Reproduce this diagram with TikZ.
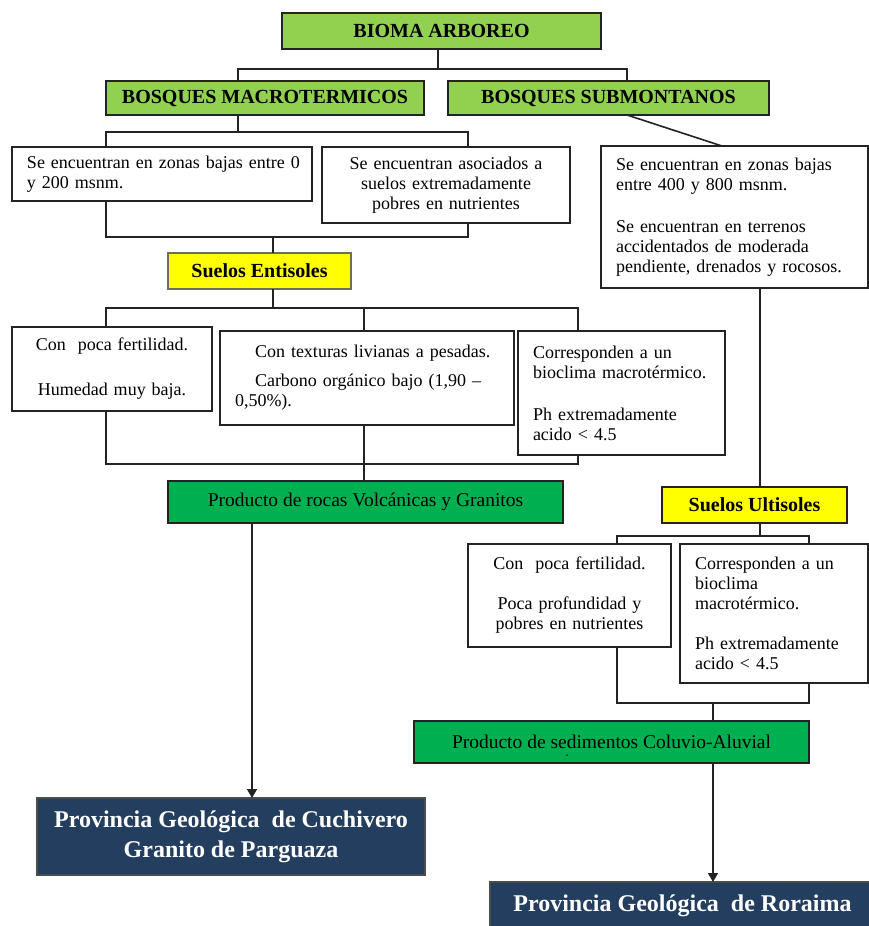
\documentclass[tikz,border=0pt]{standalone}
\usepackage{fontspec}
\setmainfont{Liberation Serif}
\usetikzlibrary{arrows.meta}
\definecolor{hdrgreen}{RGB}{146,208,80}
\definecolor{prodgreen}{RGB}{0,176,80}
\definecolor{soilyellow}{RGB}{255,255,0}
\definecolor{navyblue}{RGB}{36,62,96}
\definecolor{linegray}{RGB}{35,35,35}
\definecolor{soilborder}{RGB}{110,110,95}
\begin{document}
\begin{tikzpicture}[x=1pt,y=-1pt,
  base/.style={draw=linegray, line width=1.6pt, inner sep=0pt, outer sep=0pt, anchor=center},
  hdr/.style={base, fill=hdrgreen, font=\fontsize{20}{22}\selectfont\bfseries},
  soil/.style={base, draw=soilborder, fill=soilyellow, font=\fontsize{20}{22}\selectfont\bfseries},
  txtbox/.style={base, fill=white, font=\fontsize{18}{20}\selectfont, inner xsep=15pt},
  prod/.style={base, fill=prodgreen, font=\fontsize{19.5}{22}\selectfont},
  prov/.style={base, draw=black!70, fill=navyblue, text=white, font=\fontsize{24}{30}\selectfont\bfseries},
  conn/.style={draw=linegray, line width=1.6pt},
  arr/.style={conn, -{Triangle[length=9pt,width=10pt]}}
]
\path[use as bounding box] (0,0) rectangle (869,926);
\clip (0,0) rectangle (869,926);
\fill[white] (0,0) rectangle (869,926);

% ---- boxes ----
\node[hdr, minimum width=319pt, minimum height=36pt] (bioma) at (441.5,31) {BIOMA ARBOREO};
\node[hdr, minimum width=318pt, minimum height=34pt] (macro) at (265,98) {BOSQUES MACROTERMICOS};
\node[hdr, minimum width=321pt, minimum height=34pt] (submon) at (608.5,98) {BOSQUES SUBMONTANOS};

\node[txtbox, text width=270pt, minimum height=54pt, align=left] (t1) at (162,174)
  {\mbox{Se encuentran en zonas bajas entre 0}\\y 200 msnm.};
\node[txtbox, text width=218pt, minimum height=76pt, align=center] (t2) at (446,185)
  {Se encuentran asociados a\\suelos extremadamente\\pobres en nutrientes};
\node[txtbox, text width=237pt, minimum height=142pt, align=left] (t3) at (734.5,217)
  {Se encuentran en zonas bajas\\entre 400 y 800 msnm.\\[22pt]Se encuentran en terrenos\\accidentados de moderada\\\mbox{pendiente, drenados y rocosos.}};

\node[soil, minimum width=183pt, minimum height=36pt] (ent) at (259.5,271) {Suelos Entisoles};

\node[txtbox, text width=170pt, minimum height=84pt, align=center] (e1) at (112,369)
  {Con\ \ poca fertilidad.\\[25pt]Humedad muy baja.};
\node[txtbox, text width=264pt, minimum height=94pt, align=left] (e2) at (367,378)
  {\hspace*{20pt}Con texturas livianas a pesadas.\\[9pt]\hspace*{20pt}\mbox{Carbono orgánico bajo (1,90 –}\\0,50\%).};
\node[txtbox, text width=177pt, minimum height=124pt, align=left] (e3) at (621.5,393)
  {Corresponden a un\\\mbox{bioclima macrotérmico.}\\[22pt]Ph extremadamente\\acido < 4.5};

\node[prod, minimum width=395pt, minimum height=42pt] (rocas) at (365.5,502) {Producto de rocas Volcánicas y Granitos};
\node[prov, minimum width=388pt, minimum height=77pt, align=center] (cuch) at (231,836.5)
  {Provincia Geológica\ \ de Cuchivero\\Granito de Parguaza};

\node[soil, draw=linegray, minimum width=185pt, minimum height=36pt] (ult) at (754.5,505) {Suelos Ultisoles};
\node[txtbox, text width=173pt, minimum height=103pt, align=center] (u1) at (569.5,595.5)
  {Con\ \ poca fertilidad.\\[20pt]Poca profundidad y\\pobres en nutrientes};
\node[txtbox, text width=158pt, minimum height=139pt, align=left] (u2) at (774,613.5)
  {Corresponden a un\\bioclima\\macrotérmico.\\[20pt]Ph extremadamente\\acido < 4.5};

\node[prod, minimum width=395pt, minimum height=42pt] (col) at (611.5,742) {Producto de sedimentos Coluvio-Aluvial};
\fill[linegray] (567,755) circle (1);
\node[prov, minimum width=385pt, minimum height=50pt] (ror) at (682.5,907)
  {\raisebox{7pt}{Provincia Geológica\ \ de Roraima}};

% ---- connectors ----
\draw[conn] ([xshift=-3.5]bioma.south) -- ++(0,20) coordinate (b1) -| ([xshift=-27]macro.north);
\draw[conn] (b1) -| ([xshift=18.5]submon.north);

\draw[conn] ([xshift=-27]macro.south) -- ++(0,17) coordinate (b2) -| ([xshift=-56]t1.north);
\draw[conn] (b2) -| ([xshift=22]t2.north);

\draw[conn] ([xshift=18.5]submon.south) -- ([xshift=-12.5]t3.north);

\draw[conn] ([xshift=-56]t1.south) -- ++(0,36) coordinate (b3) -| ([xshift=22]t2.south);
\draw[conn] ([xshift=13.5]ent.north) -- ([xshift=13.5]ent.north |- b3);

\draw[conn] ([xshift=13.5]ent.south) -- ++(0,19) coordinate (b4) -| ([xshift=-6]e1.north);
\draw[conn] (b4) -| ([xshift=-3]e2.north);
\draw[conn] (b4) -| ([xshift=-43.5]e3.north);

\draw[conn] ([xshift=-6]e1.south) -- ++(0,53) -| ([xshift=-43.5]e3.south);
\draw[conn] ([xshift=-3]e2.south) -- ([xshift=-3]e2.south |- rocas.north);

\draw[arr] ([xshift=-113.5]rocas.south) -- ([xshift=-113.5]rocas.south |- cuch.north);

\draw[conn] ([xshift=25.5]t3.south) -- ([xshift=25.5]t3.south |- ult.north);
\draw[conn] ([xshift=5.5]ult.south) -- ++(0,13) coordinate (b5) -| ([xshift=47.5]u1.north);
\draw[conn] (b5) -| ([xshift=35]u2.north);

\draw[conn] ([xshift=47.5]u1.south) -- ++(0,56) coordinate (b6) -| ([xshift=35]u2.south);
\draw[conn] ([xshift=101.5]col.north) -- ([xshift=101.5]col.north |- b6);

\draw[arr] ([xshift=30.5]ror.north |- col.south) -- ([xshift=30.5]ror.north);
\end{tikzpicture}
\end{document}
